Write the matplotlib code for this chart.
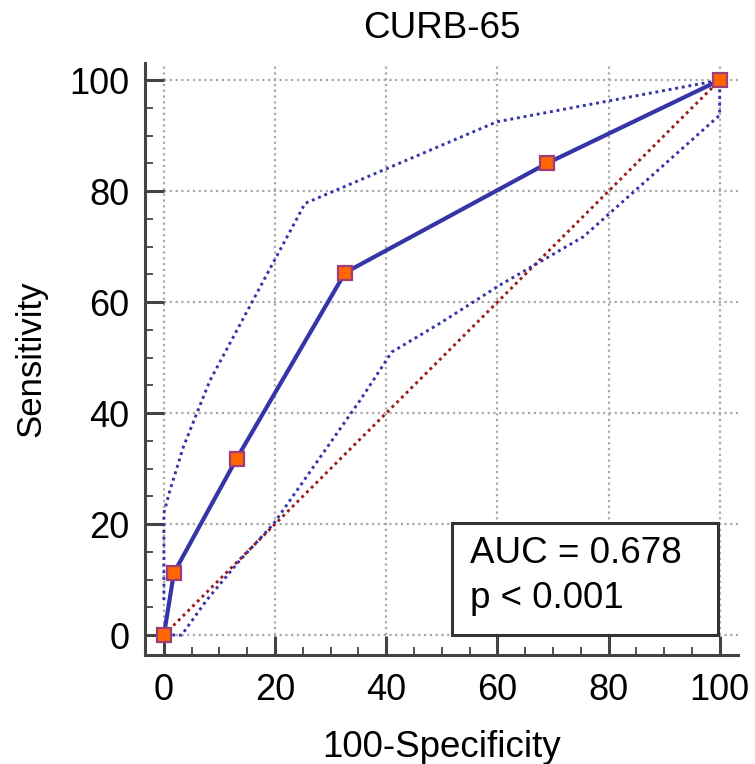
import matplotlib
matplotlib.use('Agg')
import matplotlib.pyplot as plt
from matplotlib.patches import Rectangle

plt.rcParams['font.family'] = ['Liberation Sans', 'DejaVu Sans']

# ROC curve for CURB-65
fpr = [0, 1.8, 13.1, 32.6, 68.9, 100]
tpr = [0, 11.2, 31.8, 65.3, 85.0, 100]

# 95% confidence bounds
upper_x = [0, 0, 1.1, 3.5, 5.9, 8.3, 25.4, 59.9, 100]
upper_y = [6.3, 22, 26.1, 33.9, 39.9, 45.9, 77.8, 92.5, 100]
lower_x = [1.5, 3.2, 7.7, 13.7, 19.7, 35.3, 41, 49.7, 60.5, 75.5, 100, 100]
lower_y = [0, 0, 6.3, 13.5, 20, 42.3, 51, 56.2, 63.1, 71.8, 93.7, 100]

ref_line = [0, 100]
ticks = [0, 20, 40, 60, 80, 100]
minor_ticks = [v for v in range(0, 101, 5) if v % 20]

title = 'CURB-65'
auc_text = 'AUC = 0.678'
p_text = 'p < 0.001'

blue = '#3535A8'
dark = '#444444'
dots = (0, (1, 1.3))

fig = plt.figure(figsize=(7.55, 7.64), dpi=100)
ax = fig.add_axes([145 / 755, 1 - 655 / 764, 593 / 755, 592 / 764])

xmax, ymax = 103.3, 103.1
ax.set_xlim(-3.4, xmax)
ax.set_ylim(-3.6, ymax)

# grid only covers the data range, starting at 0
ax.vlines(ticks, 0, ymax, colors='#A8A8A8', linestyles=(0, (1, 1.6)), linewidth=1.6, zorder=0)
ax.hlines(ticks, 0, xmax, colors='#A8A8A8', linestyles=(0, (1, 1.6)), linewidth=1.6, zorder=0)

ax.plot(ref_line, ref_line, color='#9B1C1C', linestyle=dots, linewidth=2.1, zorder=2)
ax.plot(upper_x, upper_y, color=blue, linestyle=dots, linewidth=2.1, zorder=2)
ax.plot(lower_x, lower_y, color=blue, linestyle=dots, linewidth=2.1, zorder=2)
ax.plot(fpr, tpr, color=blue, linewidth=3, zorder=3,
        marker='s', markersize=10.5, markerfacecolor='#FF6600',
        markeredgecolor='#A03C78', markeredgewidth=1.6, clip_on=False)

for side in ['top', 'right']:
    ax.spines[side].set_visible(False)
for side in ['left', 'bottom']:
    ax.spines[side].set_color(dark)
    ax.spines[side].set_linewidth(2.2)

ax.set_xticks(ticks)
ax.set_yticks(ticks)
ax.set_xticks(minor_ticks, minor=True)
ax.set_yticks(minor_ticks, minor=True)
ax.tick_params(which='major', direction='in', length=14, width=2.2, color=dark,
               labelsize=26, pad=13)
ax.tick_params(which='minor', direction='in', length=5.5, width=1.3, color=dark)
ax.tick_params(axis='y', pad=11)

ax.set_xlabel('100-Specificity', fontsize=26.5, labelpad=16)
ax.set_ylabel('Sensitivity', fontsize=25, labelpad=16)
ax.set_title(title, fontsize=26.5, pad=18)

box = Rectangle((0.517, 0.0337), 0.45, 0.189, transform=ax.transAxes,
                facecolor='white', edgecolor='#333333', linewidth=2.2, zorder=5)
ax.add_patch(box)
ax.text(0.548, 0.155, auc_text, transform=ax.transAxes, fontsize=26.5, zorder=6)
ax.text(0.548, 0.08, p_text, transform=ax.transAxes, fontsize=26.5, zorder=6)

fig.savefig('out.png', dpi=100)
